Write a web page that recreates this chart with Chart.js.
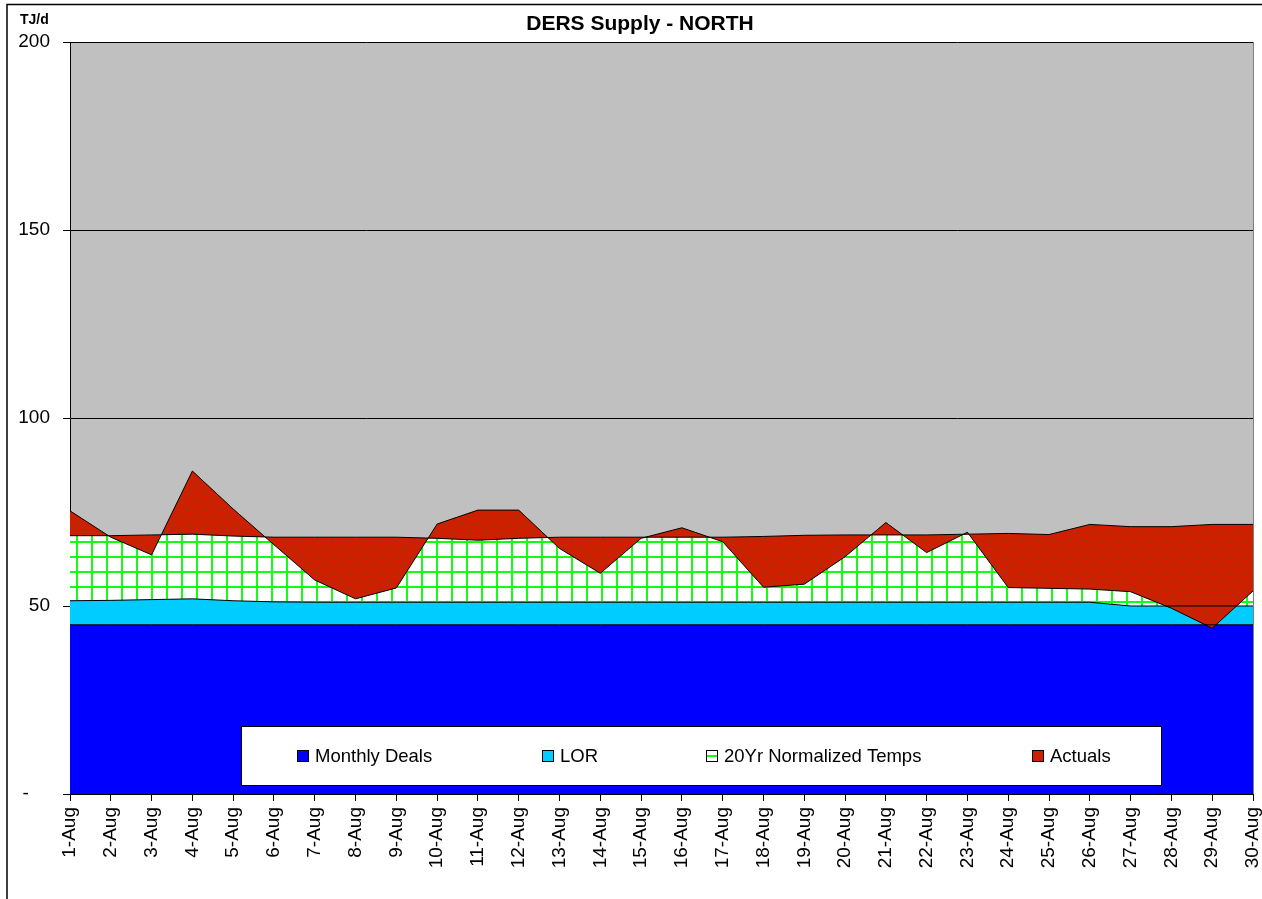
<!DOCTYPE html>
<html>
<head>
<meta charset="utf-8">
<title>DERS Supply - NORTH</title>
<script src="https://cdn.jsdelivr.net/npm/chart.js@4.4.0/dist/chart.umd.min.js"></script>
<style>
  body { margin: 0; background: #fff; }
  #wrap { width: 1262px; height: 899px; }
</style>
</head>
<body>
<div id="wrap"><canvas id="chart" width="1262" height="899"></canvas></div>
<script>
const DAYS = ['1-Aug', '2-Aug', '3-Aug', '4-Aug', '5-Aug', '6-Aug', '7-Aug', '8-Aug', '9-Aug', '10-Aug',
  '11-Aug', '12-Aug', '13-Aug', '14-Aug', '15-Aug', '16-Aug', '17-Aug', '18-Aug', '19-Aug', '20-Aug',
  '21-Aug', '22-Aug', '23-Aug', '24-Aug', '25-Aug', '26-Aug', '27-Aug', '28-Aug', '29-Aug', '30-Aug'];

// stacked pieces (TJ/d)
const MONTHLY_DEALS = [45, 45, 45, 45, 45, 45, 45, 45, 45, 45, 45, 45, 45, 45, 45,
  45, 45, 45, 45, 45, 45, 45, 45, 45, 45, 45, 45, 45, 45, 45];
const LOR = [6.4, 6.5, 6.7, 6.9, 6.4, 6.1, 6.0, 6.0, 6.0, 6.0, 6.0, 6.0, 6.0, 6.0, 6.0,
  6.0, 6.0, 6.0, 6.0, 6.0, 6.0, 6.0, 6.0, 6.0, 6.0, 6.0, 5.0, 5.0, 5.0, 5.0];
const NORMALIZED = [17.3, 17.2, 17.2, 17.2, 17.2, 17.2, 17.3, 17.3, 17.3, 17.0, 16.5, 17.0, 17.3, 17.3, 17.3,
  17.3, 17.3, 17.5, 17.8, 17.9, 17.9, 17.9, 18.1, 18.3, 18.0, 20.7, 21.1, 21.1, 21.7, 21.7];
// total actual supply
const ACTUALS = [75.3, 68.3, 63.6, 85.9, 75.8, 66.3, 56.9, 51.9, 54.8, 71.8, 75.5, 75.5, 65.3, 58.7, 68.0,
  70.8, 67.1, 55.0, 55.8, 63.1, 72.2, 64.2, 69.6, 54.9, 54.7, 54.5, 53.8, 49.4, 44.1, 54.0];

const Y_TICKS = [0, 50, 100, 150, 200];

const FONT = 'Arial, "Liberation Sans", sans-serif';
Chart.defaults.font.family = FONT;
Chart.defaults.color = '#000';

function gridPattern() {
  const c = document.createElement('canvas');
  c.width = 15; c.height = 15;
  const g = c.getContext('2d');
  g.fillStyle = '#fff';
  g.fillRect(0, 0, 15, 15);
  g.fillStyle = '#11ff11';
  g.fillRect(1, 0, 2, 15);
  g.fillRect(0, 1, 15, 2);
  return g.createPattern(c, 'repeat');
}

function dotPattern() {
  const c = document.createElement('canvas');
  c.width = 16; c.height = 16;
  const g = c.getContext('2d');
  g.fillStyle = '#cc2000';
  g.fillRect(0, 0, 16, 16);
  g.fillStyle = 'rgba(125,70,10,0.8)';
  [[4, 4], [12, 12]].forEach(([x, y]) => {
    g.fillRect(x - 1, y, 3, 1);
    g.fillRect(x, y - 1, 1, 3);
  });
  return g.createPattern(c, 'repeat');
}

const frame = {
  id: 'frame',
  beforeDraw(chart) {
    const { ctx, chartArea: a } = chart;
    ctx.save();
    ctx.fillStyle = '#fff';
    ctx.fillRect(0, 0, chart.width, chart.height);
    ctx.fillStyle = '#c0c0c0';
    ctx.fillRect(a.left, a.top, a.right - a.left, a.bottom - a.top);
    ctx.strokeStyle = '#000';
    ctx.lineWidth = 1.5;
    ctx.strokeRect(7, 4.5, chart.width + 10, chart.height + 10);
    ctx.restore();
  },
  afterDraw(chart) {
    const { ctx, chartArea: a } = chart;
    ctx.save();
    // plot right edge
    ctx.strokeStyle = '#808080';
    ctx.lineWidth = 1;
    ctx.beginPath();
    ctx.moveTo(a.right + 0.5, a.top);
    ctx.lineTo(a.right + 0.5, a.bottom);
    ctx.stroke();

    // title + unit
    ctx.fillStyle = '#000';
    ctx.textBaseline = 'middle';
    ctx.textAlign = 'center';
    ctx.font = 'bold 21px ' + FONT;
    ctx.fillText('DERS Supply - NORTH', 640, 24);
    ctx.textAlign = 'left';
    ctx.font = 'bold 14px ' + FONT;
    ctx.fillText('TJ/d', 20, 20);

    // legend box inside plot
    ctx.fillStyle = '#fff';
    ctx.fillRect(241, 726, 920, 59);
    ctx.strokeStyle = '#000';
    ctx.lineWidth = 1;
    ctx.strokeRect(241.5, 726.5, 920, 59);

    const items = [
      { x: 297, label: 'Monthly Deals', fill: '#0000ff' },
      { x: 542, label: 'LOR', fill: '#00ccff' },
      { x: 706, label: '20Yr Normalized Temps', fill: null },
      { x: 1032, label: 'Actuals', fill: '#cc2000' }
    ];
    ctx.font = '18.5px ' + FONT;
    items.forEach(it => {
      if (it.fill) {
        ctx.fillStyle = it.fill;
        ctx.fillRect(it.x, 750, 12, 12);
      } else {
        ctx.fillStyle = '#fff';
        ctx.fillRect(it.x, 750, 12, 12);
        ctx.fillStyle = '#11ff11';
        ctx.fillRect(it.x, 755, 12, 2);
      }
      ctx.strokeStyle = '#000';
      ctx.strokeRect(it.x + 0.5, 750.5, 11, 11);
      ctx.fillStyle = '#000';
      ctx.fillText(it.label, it.x + 18, 757);
    });
    ctx.restore();
  }
};

const areaLine = { borderColor: '#000', borderWidth: 1, pointRadius: 0, tension: 0 };

new Chart(document.getElementById('chart'), {
  type: 'line',
  data: {
    labels: DAYS,
    datasets: [
      { ...areaLine, label: 'Monthly Deals', data: MONTHLY_DEALS, backgroundColor: '#0000ff', fill: 'origin', stack: 'supply' },
      { ...areaLine, label: 'LOR', data: LOR, backgroundColor: '#00ccff', fill: '-1', stack: 'supply' },
      { ...areaLine, label: '20Yr Normalized Temps', data: NORMALIZED, backgroundColor: gridPattern(), fill: '-1', stack: 'supply' },
      { ...areaLine, label: 'Actuals', data: ACTUALS, backgroundColor: dotPattern(), fill: 2, stack: 'actual', order: -1 }
    ]
  },
  options: {
    responsive: false,
    animation: false,
    layout: { padding: { top: 42, right: 9, left: 0, bottom: 0 } },
    plugins: {
      legend: { display: false },
      title: { display: false },
      tooltip: { enabled: false },
      filler: { drawTime: 'beforeDatasetsDraw' }
    },
    scales: {
      x: {
        offset: false,
        grid: { drawOnChartArea: false, drawTicks: true, tickLength: 7, color: '#000' },
        border: { display: true, color: '#000', width: 1 },
        ticks: { autoSkip: false, minRotation: 90, maxRotation: 90, padding: 6, font: { size: 19 }, color: '#000' },
        afterFit: s => { s.height = 105; s.paddingLeft = 0; s.paddingRight = 0; }
      },
      y: {
        stacked: true,
        min: 0,
        max: 200,
        afterBuildTicks: s => { s.ticks = Y_TICKS.map(v => ({ value: v })); },
        grid: { color: '#000', lineWidth: 1, tickLength: 7 },
        border: { display: true, color: '#000', width: 1 },
        ticks: {
          padding: 13,
          font: { size: 19 },
          color: '#000',
          callback: v => v === 0 ? '-    ' : v
        },
        afterFit: s => { s.width = 70; s.paddingTop = 0; s.paddingBottom = 0; }
      }
    }
  },
  plugins: [frame]
});
</script>
</body>
</html>
